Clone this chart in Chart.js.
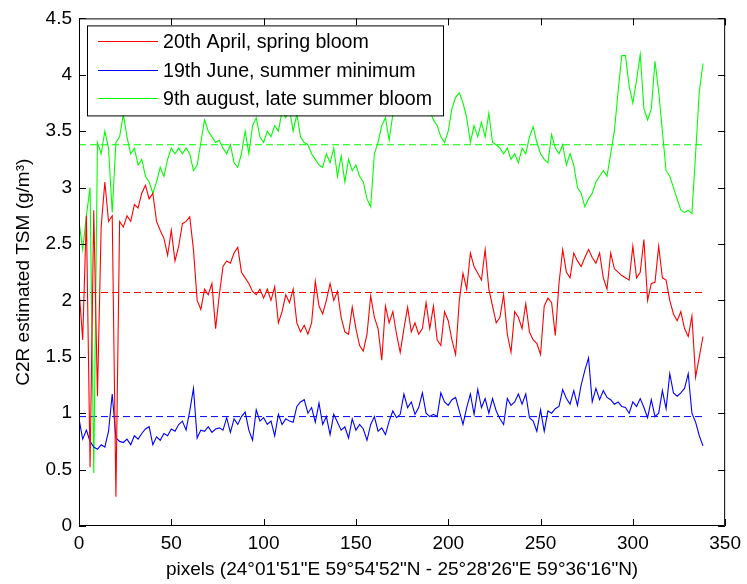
<!DOCTYPE html>
<html>
<head>
<meta charset="utf-8">
<title>C2R estimated TSM</title>
<script src="https://cdn.jsdelivr.net/npm/chart.js@4.4.1/dist/chart.umd.min.js"></script>
<style>
    html, body { margin: 0; padding: 0; background: #fff; }
    #wrap { width: 747px; height: 584px; }
</style>
</head>
<body>
<div id="wrap"><canvas id="tsmChart" width="747" height="584"></canvas></div>
<script>
// TSM (g/m3) along the transect, one value every 2 pixels from pixel 0
var PIXEL_STEP = 2;

var springBloom = [
    2.1, 1.65, 2.75, 0.52, 2.8, 1.15, 2.65, 3.05, 2.7, 2.75,
    0.26, 2.7, 2.65, 2.75, 2.7, 2.85, 2.82, 2.95, 3.02, 2.9,
    2.95, 2.7, 2.62, 2.55, 2.4, 2.62, 2.35, 2.48, 2.68, 2.7,
    2.74, 2.45, 2.0, 1.92, 2.1, 2.05, 2.15, 1.75, 2.05, 2.3,
    2.35, 2.33, 2.42, 2.47, 2.25, 2.2, 2.15, 2.08, 2.05, 2.1,
    2.02, 2.1, 2.0, 2.12, 1.8, 1.9, 2.05, 1.98, 2.1, 1.8,
    1.72, 1.78, 1.7, 1.8, 2.17, 1.95, 1.88, 2.0, 2.15, 2.0,
    2.08, 1.85, 1.72, 1.7, 1.94, 1.75, 1.6, 1.55, 1.7, 2.04,
    1.85, 1.75, 1.47, 1.95, 1.8, 1.9, 1.7, 1.54, 1.75, 1.94,
    1.72, 1.8, 1.7, 1.75, 1.98, 1.75, 1.95, 1.65, 1.6, 1.9,
    1.82, 1.65, 1.52, 2.0, 2.24, 2.1, 2.42, 2.3, 2.24, 2.18,
    2.45, 2.1, 1.95, 1.8, 1.85, 2.05, 1.7, 1.54, 1.9, 1.85,
    1.75, 1.97, 1.72, 1.65, 1.62, 1.52, 1.95, 2.02, 1.98, 1.69,
    2.15, 2.45, 2.25, 2.2, 2.42, 2.35, 2.3, 2.38, 2.45, 2.38,
    2.33, 2.42, 2.2, 2.1, 2.42, 2.28, 2.25, 2.22, 2.2, 2.18,
    2.48, 2.2, 2.25, 2.54, 2.0, 2.15, 2.16, 2.48, 2.2, 2.18,
    2.0, 1.88, 1.82, 1.9, 1.75, 1.68, 1.86, 1.32, 1.5, 1.68
];

var summerMinimum = [
    0.95, 0.77, 0.85, 0.75, 0.7, 0.68, 0.72, 0.7, 0.84, 1.17,
    0.78, 0.75, 0.74, 0.77, 0.72, 0.8, 0.77, 0.82, 0.86, 0.88,
    0.72, 0.79, 0.76, 0.82, 0.8, 0.86, 0.84, 0.9, 0.93, 0.85,
    1.02, 1.22, 0.78, 0.85, 0.84, 0.88, 0.83, 0.86, 0.87, 0.85,
    0.96, 0.83, 0.95, 0.9, 0.97, 1.01, 0.85, 0.76, 1.03, 0.93,
    0.96, 0.9, 0.93, 0.8, 0.99, 0.9, 0.95, 0.93, 0.92, 1.06,
    1.1, 1.12, 1.0, 1.05, 0.92, 1.09, 0.9, 0.97, 0.81, 0.99,
    0.92, 0.85, 0.88, 0.78, 0.95, 0.85, 0.9, 0.86, 0.76, 0.9,
    0.97, 0.84, 0.87, 0.81, 0.93, 1.02, 0.96, 0.99, 1.17, 1.05,
    1.1, 0.99, 1.05, 1.18, 1.0, 0.97, 0.99, 0.97, 1.18, 1.1,
    1.07, 1.12, 1.14, 1.02, 0.9, 1.05, 1.17, 0.99, 1.21, 1.05,
    1.13, 1.0, 1.13, 1.02, 0.95, 0.9, 1.13, 1.07, 1.1, 1.17,
    1.08, 1.17, 0.96, 0.93, 0.84, 1.03, 0.84, 1.02, 1.0, 1.04,
    1.06, 1.21, 1.13, 1.08, 1.2, 1.07, 1.25, 1.38, 1.49, 1.1,
    1.22, 1.12, 1.2, 1.14, 1.12, 1.08, 1.1, 1.06, 1.05, 1.0,
    1.1, 1.06, 1.13, 1.05, 0.96, 1.12, 0.97, 1.0, 1.2, 1.04,
    1.35, 1.18, 1.15, 1.18, 1.22, 1.35, 1.0, 0.92, 0.8, 0.71
];

var lateSummerBloom = [
    2.7, 2.45, 2.75, 3.0, 0.47, 3.4, 3.3, 3.5, 3.35, 2.78,
    3.4, 3.45, 3.65, 3.45, 3.3, 3.35, 3.2, 3.25, 3.1, 3.05,
    2.95, 3.05, 3.18, 3.1, 3.25, 3.35, 3.3, 3.35, 3.3, 3.35,
    3.3, 3.15, 3.2, 3.4, 3.6, 3.5, 3.45, 3.4, 3.42, 3.35,
    3.3, 3.38, 3.22, 3.18, 3.3, 3.5, 3.3, 3.55, 3.62, 3.45,
    3.4, 3.5, 3.45, 3.55, 3.5, 3.68, 3.62, 3.7, 3.5, 3.65,
    3.45, 3.4, 3.38, 3.3, 3.25, 3.2, 3.18, 3.3, 3.22, 3.35,
    3.1, 3.28, 3.05, 3.25, 3.15, 3.2, 3.1, 3.05, 2.9, 2.83,
    3.3, 3.4, 3.55, 3.62, 3.42, 3.65, 3.75, 3.8, 3.75, 3.8,
    3.75, 3.7, 3.8, 3.75, 3.7, 3.68, 3.6, 3.55, 3.45, 3.4,
    3.5, 3.7, 3.8, 3.84, 3.75, 3.62, 3.4, 3.55, 3.45, 3.58,
    3.45, 3.66, 3.4, 3.38, 3.35, 3.3, 3.35, 3.25, 3.3, 3.22,
    3.35, 3.3, 3.45, 3.54, 3.4, 3.3, 3.25, 3.22, 3.47, 3.35,
    3.3, 3.38, 3.2, 3.3, 3.2, 3.0, 2.95, 2.83, 2.9, 2.95,
    3.05, 3.1, 3.15, 3.1, 3.3, 3.5, 3.85, 4.17, 4.17, 3.9,
    3.75, 3.95, 4.18, 3.7, 3.6, 3.7, 4.12, 3.85, 3.5, 3.15,
    3.1, 3.0, 2.9, 2.8, 2.78, 2.8, 2.77, 3.3, 3.85, 4.1
];

// transect means, drawn as dashed lines across the profile
var seriesMeans = [2.07, 0.97, 3.38];
var meanSpan = [0, 338];

var seriesLabels = [
    '20th April, spring bloom',
    '19th June, summer minimum',
    '9th august, late summer bloom'
];
var seriesColors = ['#ff0000', '#0000ff', '#00ff00'];

var xTicks = [0, 50, 100, 150, 200, 250, 300, 350];
var xTickLabels = ['0', '50', '100', '150', '200', '250', '300', '350'];
var yTicks = [0, 0.5, 1, 1.5, 2, 2.5, 3, 3.5, 4, 4.5];
var yTickLabels = ['0', '0.5', '1', '1.5', '2', '2.5', '3', '3.5', '4', '4.5'];

var xTitle = 'pixels (24\u00B001\'51"E 59\u00B054\'52"N - 25\u00B028\'26"E 59\u00B036\'16"N)';
var yTitle = 'C2R estimated TSM (g/m\u00B3)';

var FONT = "'Liberation Sans', Arial, Helvetica, sans-serif";
var FONT_SIZE = 19;
var LEGEND_FONT_SIZE = 19.6;

function toPoints(values) {
    var pts = [];
    for (var i = 0; i < values.length; i++) {
        pts.push({ x: i * PIXEL_STEP, y: values[i] });
    }
    return pts;
}

function tickList(values) {
    return values.map(function (v) { return { value: v }; });
}

// MATLAB style frame: box on all four sides, ticks pointing inwards
var boxAxes = {
    id: 'boxAxes',
    afterDatasetsDraw: function (chart) {
        var ctx = chart.ctx;
        var a = chart.chartArea;
        var xs = chart.scales.x;
        var ys = chart.scales.y;
        var len = 7;
        ctx.save();
        ctx.strokeStyle = '#000';
        ctx.lineWidth = 1;
        ctx.beginPath();
        ctx.rect(a.left + 0.5, a.top + 0.5, a.right - a.left - 1, a.bottom - a.top - 1);
        xTicks.forEach(function (v) {
            var px = Math.round(xs.getPixelForValue(v)) + 0.5;
            ctx.moveTo(px, a.bottom);
            ctx.lineTo(px, a.bottom - len);
            ctx.moveTo(px, a.top);
            ctx.lineTo(px, a.top + len);
        });
        yTicks.forEach(function (v) {
            var py = Math.round(ys.getPixelForValue(v)) + 0.5;
            ctx.moveTo(a.left, py);
            ctx.lineTo(a.left + len, py);
            ctx.moveTo(a.right, py);
            ctx.lineTo(a.right - len, py);
        });
        ctx.stroke();
        ctx.restore();
    }
};

// legend box sitting inside the upper left corner of the plot
var insetLegend = {
    id: 'insetLegend',
    afterDraw: function (chart) {
        var ctx = chart.ctx;
        var a = chart.chartArea;
        var left = a.left + 8;
        var top = a.top + 7;
        var rowH = 28.3;
        ctx.save();
        ctx.font = LEGEND_FONT_SIZE + 'px ' + FONT;
        var textW = 0;
        seriesLabels.forEach(function (t) {
            textW = Math.max(textW, ctx.measureText(t).width);
        });
        var w = Math.round(76 + textW + 11);
        var h = 90;
        ctx.fillStyle = '#fff';
        ctx.fillRect(left, top, w, h);
        ctx.strokeStyle = '#000';
        ctx.lineWidth = 1;
        ctx.strokeRect(left + 0.5, top + 0.5, w, h);
        ctx.textBaseline = 'middle';
        ctx.textAlign = 'left';
        seriesLabels.forEach(function (t, i) {
            var y = Math.round(top + 16 + i * rowH) + 0.5;
            ctx.strokeStyle = seriesColors[i];
            ctx.beginPath();
            ctx.moveTo(left + 11, y);
            ctx.lineTo(left + 71, y);
            ctx.stroke();
            ctx.fillStyle = '#000';
            ctx.fillText(t, left + 76, y + 1);
        });
        ctx.restore();
    }
};

var seriesValues = [springBloom, summerMinimum, lateSummerBloom];
var datasets = [];
seriesValues.forEach(function (vals, i) {
    datasets.push({
        label: seriesLabels[i],
        data: toPoints(vals),
        borderColor: seriesColors[i],
        borderWidth: 1.1,
        pointRadius: 0,
        tension: 0,
        fill: false
    });
});
seriesMeans.forEach(function (m, i) {
    datasets.push({
        label: 'mean ' + i,
        data: [{ x: meanSpan[0], y: m }, { x: meanSpan[1], y: m }],
        borderColor: seriesColors[i],
        borderWidth: 1,
        borderDash: [7, 4],
        pointRadius: 0,
        fill: false
    });
});

Chart.defaults.font.family = FONT;
Chart.defaults.font.size = FONT_SIZE;
Chart.defaults.color = '#000';

new Chart(document.getElementById('tsmChart').getContext('2d'), {
    type: 'line',
    data: { datasets: datasets },
    options: {
        responsive: false,
        devicePixelRatio: 1,
        animation: false,
        layout: { padding: { top: 13, right: 16, left: 0, bottom: 0 } },
        plugins: {
            legend: { display: false },
            tooltip: { enabled: false }
        },
        scales: {
            x: {
                type: 'linear',
                min: 0,
                max: 350,
                afterBuildTicks: function (scale) { scale.ticks = tickList(xTicks); },
                afterFit: function (scale) { scale.height = 58; },
                grid: { display: false, drawTicks: false },
                border: { display: false },
                ticks: {
                    padding: 6,
                    maxRotation: 0,
                    autoSkip: false,
                    callback: function (v) { return xTickLabels[xTicks.indexOf(v)]; }
                },
                title: {
                    display: true,
                    text: xTitle,
                    padding: { top: 0, bottom: 3 }
                }
            },
            y: {
                type: 'linear',
                min: 0,
                max: 4.5,
                afterBuildTicks: function (scale) { scale.ticks = tickList(yTicks); },
                afterFit: function (scale) { scale.width = 79; },
                grid: { display: false, drawTicks: false },
                border: { display: false },
                ticks: {
                    padding: 7,
                    autoSkip: false,
                    callback: function (v) { return yTickLabels[yTicks.indexOf(v)]; }
                },
                title: {
                    display: true,
                    text: yTitle,
                    padding: { top: 12, bottom: 0 }
                }
            }
        }
    },
    plugins: [boxAxes, insetLegend]
});
</script>
</body>
</html>
